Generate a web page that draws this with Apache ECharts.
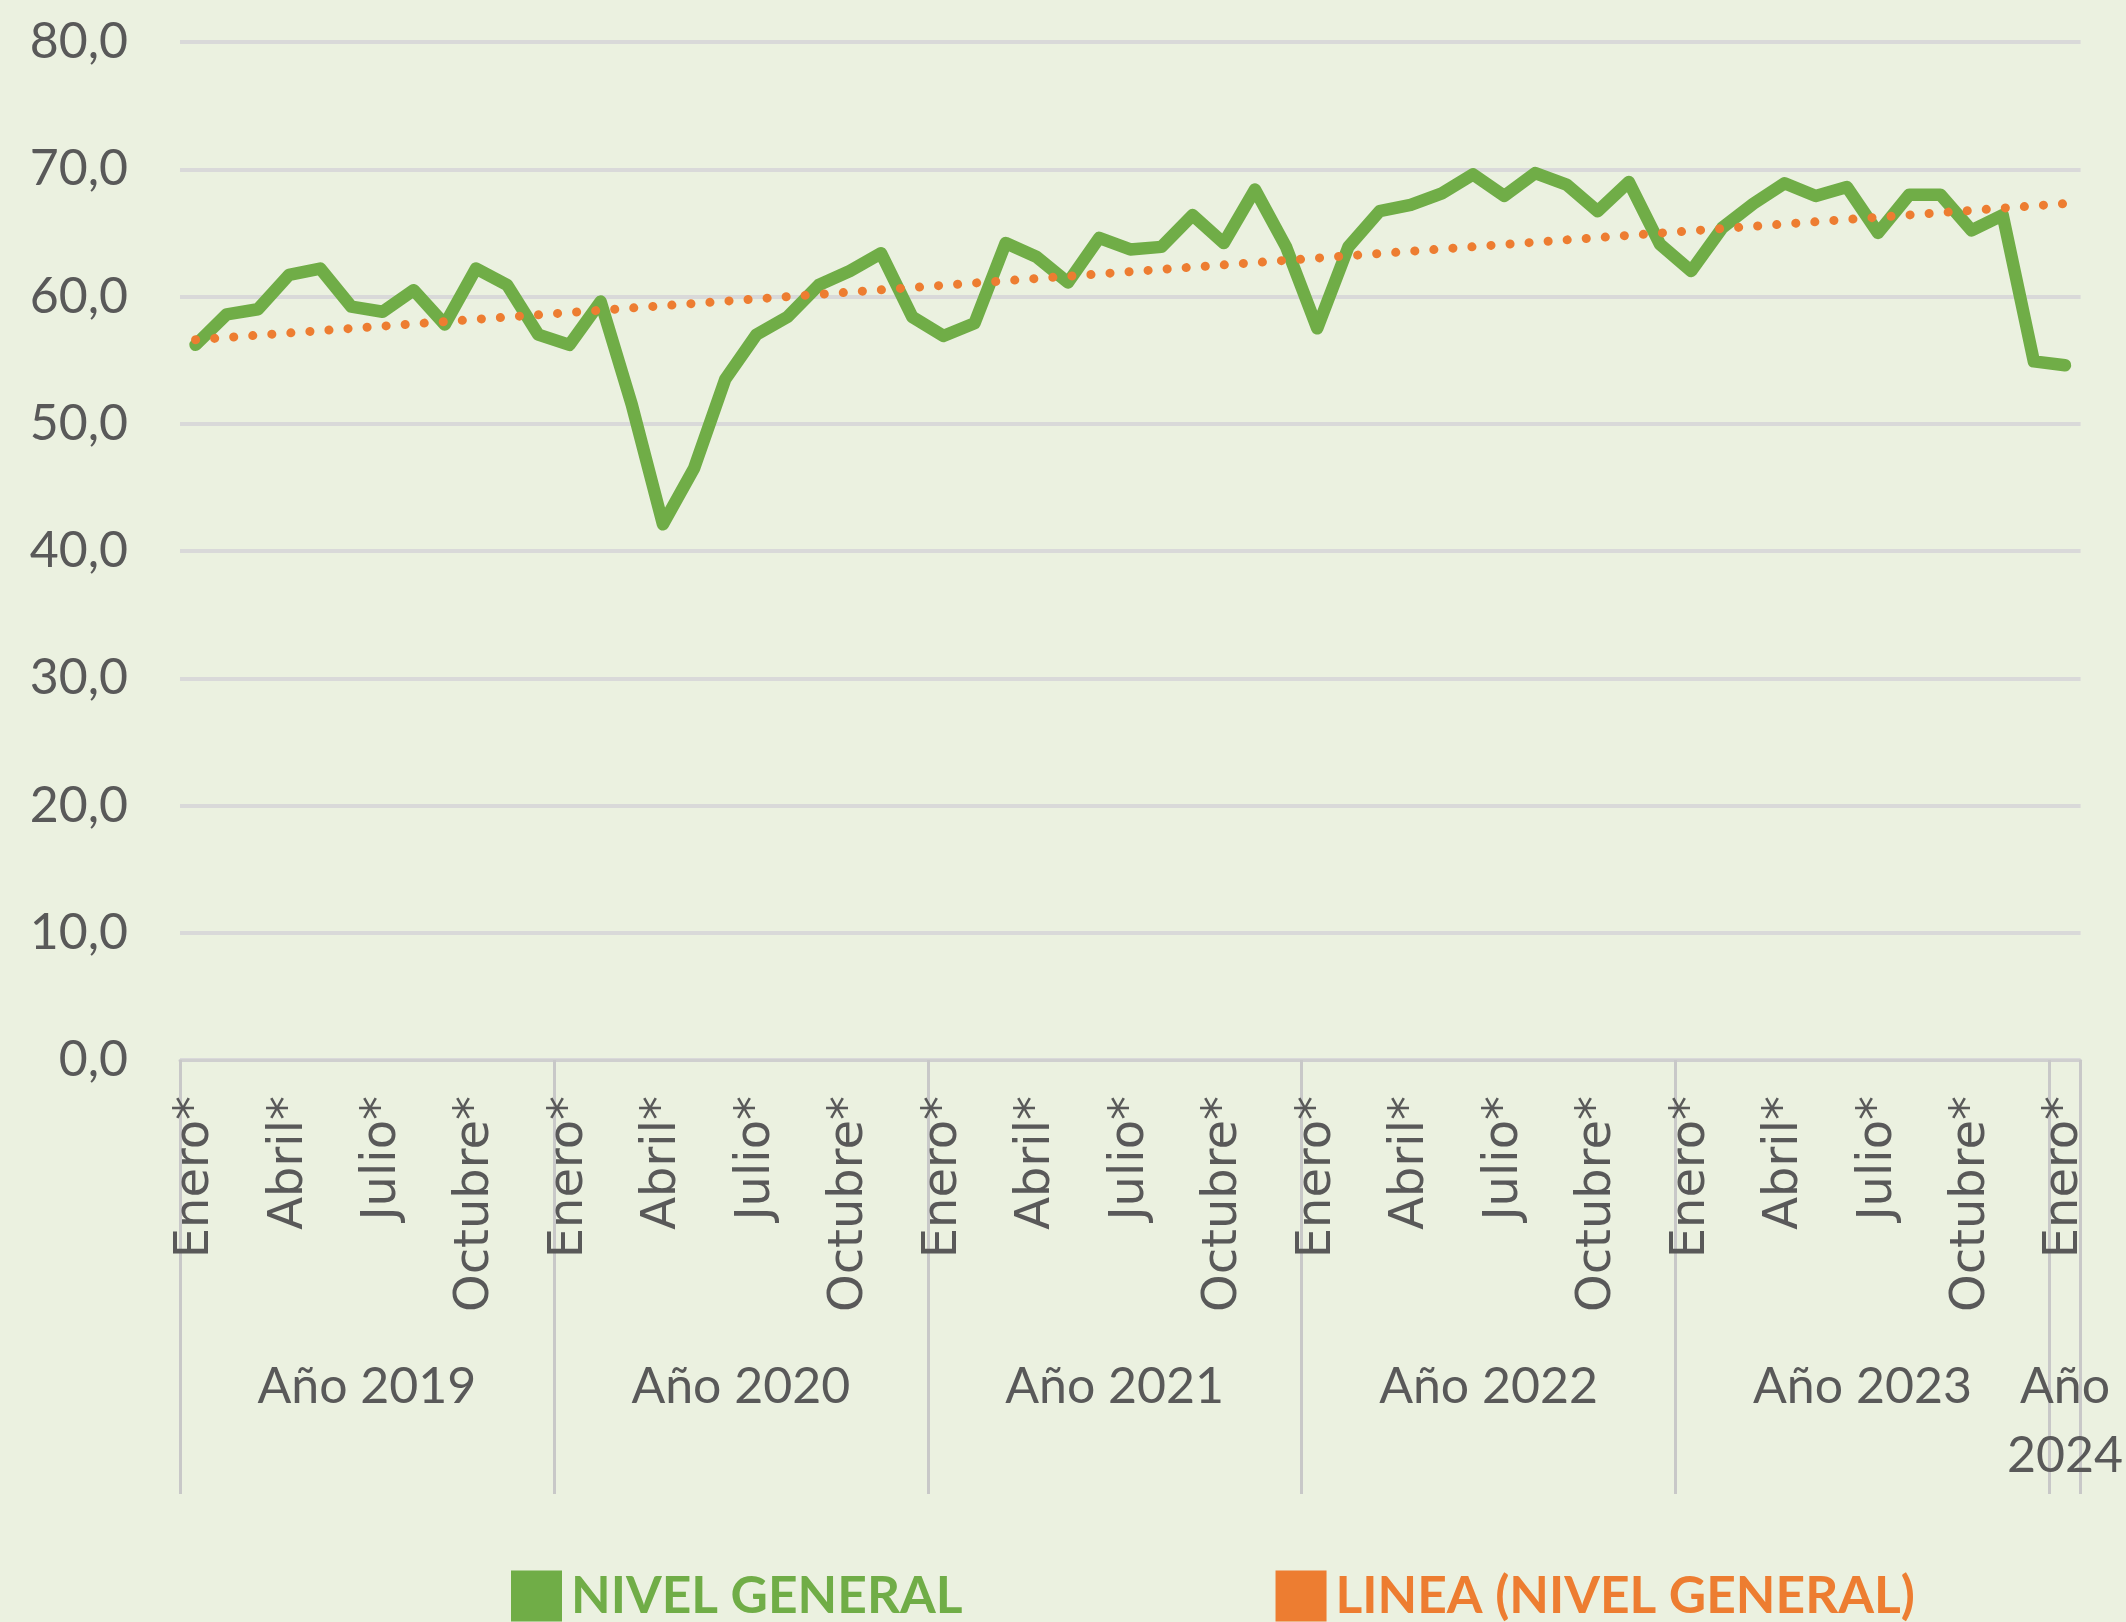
<!DOCTYPE html>
<html>
<head>
<meta charset="utf-8">
<script src="https://cdn.jsdelivr.net/npm/echarts@6/dist/echarts.min.js"></script>
<style>
  html, body { margin: 0; padding: 0; background: #EBF1E0; }
  #chart { width: 2126px; height: 1622px; }
</style>
</head>
<body>
<div id="chart"></div>
<script>
// meses y años del eje X
var months = ['Enero*', 'Febrero*', 'Marzo*', 'Abril*', 'Mayo*', 'Junio*', 'Julio*', 'Agosto*', 'Septiembre*', 'Octubre*', 'Noviembre*', 'Diciembre*'];
var years = ['Año 2019', 'Año 2020', 'Año 2021', 'Año 2022', 'Año 2023', 'Año\n2024'];
var monthsPerYear = [12, 12, 12, 12, 12, 1];

// valores
var nivelGeneral = [
  56.2, 58.6, 59.0, 61.7, 62.2, 59.2, 58.8, 60.5, 57.8, 62.2, 60.9, 57.0,
  56.2, 59.6, 51.5, 42.1, 46.5, 53.5, 57.0, 58.4, 60.9, 62.0, 63.4, 58.4,
  56.9, 57.9, 64.2, 63.1, 61.1, 64.6, 63.7, 63.9, 66.4, 64.2, 68.4, 63.9,
  57.5, 63.9, 66.7, 67.2, 68.1, 69.6, 67.9, 69.7, 68.8, 66.7, 69.0, 64.1,
  62.0, 65.4, 67.3, 68.9, 67.9, 68.6, 65.0, 68.0, 68.0, 65.2, 66.4, 54.9,
  54.6
];
// linea de tendencia: extremos [indice, valor]
var tendencia = [[0, 56.6], [60, 67.3]];

var categories = [];
var boundaries = [0];
var centers = [];
var pos = 0;
monthsPerYear.forEach(function (n) {
  for (var m = 0; m < n; m++) categories.push(months[m]);
  centers.push(pos + n / 2);
  pos += n;
  boundaries.push(pos);
});

var chart = echarts.init(document.getElementById('chart'));
var options = {
  backgroundColor: '#EBF1E0',
  animation: false,
  grid: { left: 180, right: 43, top: 42, bottom: 562 },
  legend: {
    left: 506,
    top: 1565,
    icon: 'rect',
    itemWidth: 51,
    itemHeight: 51,
    itemGap: 313,
    itemStyle: { borderWidth: 0 },
    textStyle: { fontFamily: 'Lato', fontSize: 51.5, fontWeight: 'bold', padding: [0, 0, 0, 4] },
    data: [
      { name: 'NIVEL GENERAL', textStyle: { color: '#70AD47' } },
      { name: 'LINEA (NIVEL GENERAL)', textStyle: { color: '#ED7D31' } }
    ]
  },
  xAxis: [
    {
      type: 'category',
      data: categories,
      boundaryGap: true,
      axisLine: { lineStyle: { color: '#CFCFCF', width: 3 } },
      axisTick: { show: false },
      axisLabel: {
        interval: 2,
        rotate: 90,
        margin: 36,
        fontFamily: 'DejaVu Sans',
        fontSize: 48,
        color: '#595959'
      }
    },
    {
      type: 'value',
      position: 'bottom',
      min: 0,
      max: pos,
      axisLine: { show: false },
      splitLine: { show: false },
      axisTick: {
        show: true,
        customValues: boundaries,
        length: 434,
        lineStyle: { color: '#C8C8C8', width: 3 }
      },
      axisLabel: {
        customValues: centers,
        margin: 292,
        fontFamily: 'Lato',
        fontSize: 50,
        lineHeight: 69,
        color: '#595959',
        formatter: function (v) {
          var i = centers.indexOf(v);
          return i >= 0 ? years[i] : '';
        }
      }
    }
  ],
  yAxis: {
    type: 'value',
    min: 0,
    max: 80,
    interval: 10,
    axisLine: { show: false },
    axisTick: { show: false },
    splitLine: { lineStyle: { color: '#D9D9D9', width: 4 } },
    axisLabel: {
      margin: 52,
      fontFamily: 'Lato',
      fontSize: 50,
      color: '#595959',
      formatter: function (v) { return v.toFixed(1).replace('.', ','); }
    }
  },
  series: [
    {
      name: 'NIVEL GENERAL',
      type: 'line',
      data: nivelGeneral,
      symbol: 'none',
      color: '#70AD47',
      lineStyle: { width: 12.5, color: '#70AD47', cap: 'round', join: 'round' },
      z: 2
    },
    {
      name: 'LINEA (NIVEL GENERAL)',
      type: 'line',
      data: tendencia,
      symbol: 'none',
      color: '#ED7D31',
      lineStyle: { width: 9, color: '#ED7D31', type: [0.1, 19], cap: 'round' },
      z: 3
    }
  ]
};
chart.setOption(options);
</script>
</body>
</html>
